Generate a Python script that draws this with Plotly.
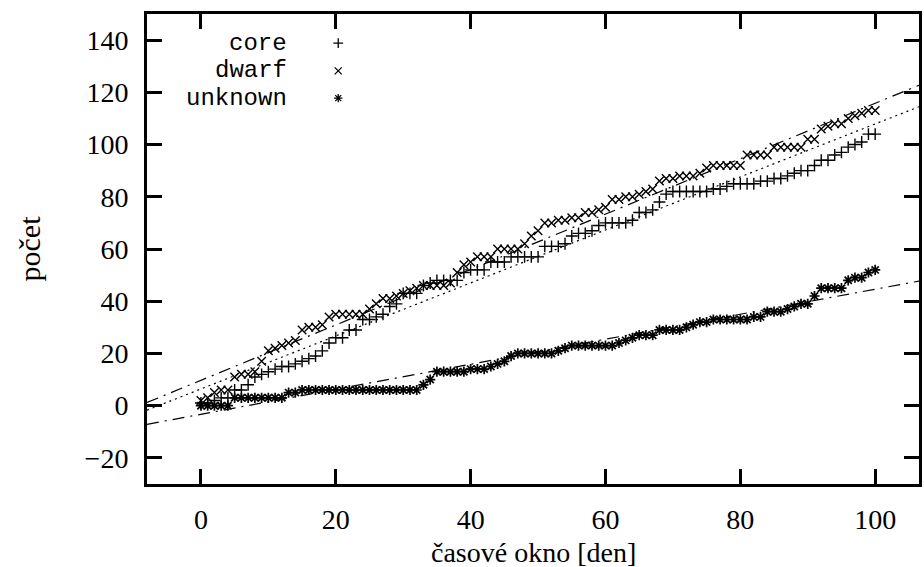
import numpy as np
import plotly.graph_objects as go

# time window in days
days = list(range(101))

core = [
    1, 1, 2, 3, 3, 6, 6, 8, 11, 12,
    13, 14, 15, 15, 16, 17, 18, 19, 21, 24,
    26, 26, 29, 29, 33, 33, 34, 35, 38, 39,
    43, 43, 43, 46, 47, 48, 48, 48, 48, 51,
    52, 52, 52, 55, 55, 55, 57, 57, 57, 57,
    57, 61, 61, 61, 62, 65, 66, 66, 67, 69,
    70, 70, 70, 70, 71, 74, 74, 75, 78, 81,
    82, 82, 82, 82, 82, 82, 83, 83, 84, 85,
    85, 85, 85, 86, 86, 87, 87, 88, 89, 90,
    90, 92, 94, 94, 96, 97, 99, 100, 101, 104,
    104,
]

dwarf = [
    2, 3, 5, 6, 6, 11, 12, 12, 13, 17,
    21, 22, 23, 24, 25, 29, 30, 30, 31, 34,
    35, 35, 35, 35, 35, 37, 39, 41, 41, 42,
    43, 44, 45, 46, 46, 46, 46, 47, 51, 54,
    55, 57, 57, 57, 60, 60, 60, 60, 62, 65,
    67, 70, 70, 71, 71, 72, 72, 74, 74, 75,
    76, 79, 79, 80, 80, 81, 82, 83, 86, 87,
    87, 88, 88, 88, 89, 91, 92, 92, 92, 92,
    92, 96, 96, 96, 96, 99, 99, 99, 99, 99,
    102, 102, 106, 107, 108, 108, 110, 111, 112, 113,
    113,
]

unknown = [
    0, 0, 0, 0, 0, 3, 3, 3, 3, 3,
    3, 3, 3, 5, 5, 6, 6, 6, 6, 6,
    6, 6, 6, 6, 6, 6, 6, 6, 6, 6,
    6, 6, 6, 8, 10, 13, 13, 13, 13, 13,
    14, 14, 14, 15, 16, 17, 19, 20, 20, 20,
    20, 20, 20, 21, 22, 23, 23, 23, 23, 23,
    23, 23, 24, 25, 26, 27, 27, 27, 29, 29,
    29, 29, 30, 31, 32, 32, 33, 33, 33, 33,
    33, 33, 34, 34, 36, 36, 36, 37, 38, 39,
    39, 42, 45, 45, 45, 45, 48, 49, 49, 51,
    52,
]

series_names = ["core", "dwarf", "unknown"]
series_values = [core, dwarf, unknown]
series_symbols = ["cross-thin", "x-thin", "asterisk"]
series_widths = [1.4, 1.4, 1.7]

# linear fits y = a*x + b for each series
fit_slope = [1.015, 1.061, 0.479]
fit_intercept = [6.4, 9.7, -3.3]
fit_dash = ["2px,4px", "12px,6px,2px,6px", "12px,6px,2px,6px"]

x_ticks = [0, 20, 40, 60, 80, 100]
y_ticks = [-20, 0, 20, 40, 60, 80, 100, 120, 140]
X_RANGE = [-8, 106.5]
Y_RANGE = [-30, 150]

x_title = "časové okno [den]"
y_title = "počet"

# key rows (paper fractions inside the plot frame)
key_text_x = 0.1845
key_symbol_x = 0.2477
key_rows_y = [0.938, 0.879, 0.821]

serif = "'Liberation Serif', 'DejaVu Serif', 'Times New Roman', serif"
mono = "'Liberation Mono', 'DejaVu Sans Mono', monospace"

fig = go.Figure()

for name, vals, sym, w in zip(series_names, series_values, series_symbols, series_widths):
    fig.add_trace(go.Scatter(
        x=days, y=vals, mode="markers", name=name,
        marker=dict(symbol=sym, size=8.5, color="black",
                    line=dict(color="black", width=w)),
        showlegend=False,
    ))

x_line = np.array(X_RANGE)
for a, b, dash in zip(fit_slope, fit_intercept, fit_dash):
    fig.add_trace(go.Scatter(
        x=x_line, y=a * x_line + b, mode="lines",
        line=dict(color="black", width=1.2, dash=dash),
        showlegend=False, hoverinfo="skip",
    ))

# key: label text right-aligned, sample symbol to its right
for name, sym, ky in zip(series_names, series_symbols, key_rows_y):
    fig.add_annotation(
        x=key_text_x, y=ky, xref="paper", yref="paper",
        text=name, showarrow=False, xanchor="right", yanchor="middle",
        font=dict(family=mono, size=24, color="black"),
    )
    fig.add_trace(go.Scatter(
        x=[key_symbol_x], y=[ky], xaxis="x2", yaxis="y2", mode="markers",
        marker=dict(symbol=sym, size=7, color="black",
                    line=dict(color="black", width=1.3)),
        showlegend=False, hoverinfo="skip",
    ))

# x-axis title below the tick labels
fig.add_annotation(
    x=0.5, y=-0.145, xref="paper", yref="paper",
    text=x_title, showarrow=False, xanchor="center", yanchor="middle",
    font=dict(family=serif, size=28, color="black"),
)

axis_common = dict(
    ticks="inside", ticklen=15, tickwidth=2.5, tickcolor="black",
    showline=True, linewidth=3, linecolor="black", mirror="allticks",
    showgrid=False, zeroline=False,
    tickfont=dict(family=serif, size=28, color="black"),
)

fig.update_layout(
    width=924, height=567,
    margin=dict(l=147, r=2, t=14, b=83),
    paper_bgcolor="white", plot_bgcolor="white",
    showlegend=False,
    xaxis=dict(range=X_RANGE, tickvals=x_ticks, ticklabelstandoff=8,
               **axis_common),
    yaxis=dict(range=Y_RANGE, tickvals=y_ticks, ticklabelstandoff=10,
               title=dict(text=y_title, standoff=36,
                          font=dict(family=serif, size=30, color="black")),
               **axis_common),
    xaxis2=dict(overlaying="x", range=[0, 1], visible=False),
    yaxis2=dict(overlaying="y", range=[0, 1], visible=False),
)

fig.write_html("out.html")
